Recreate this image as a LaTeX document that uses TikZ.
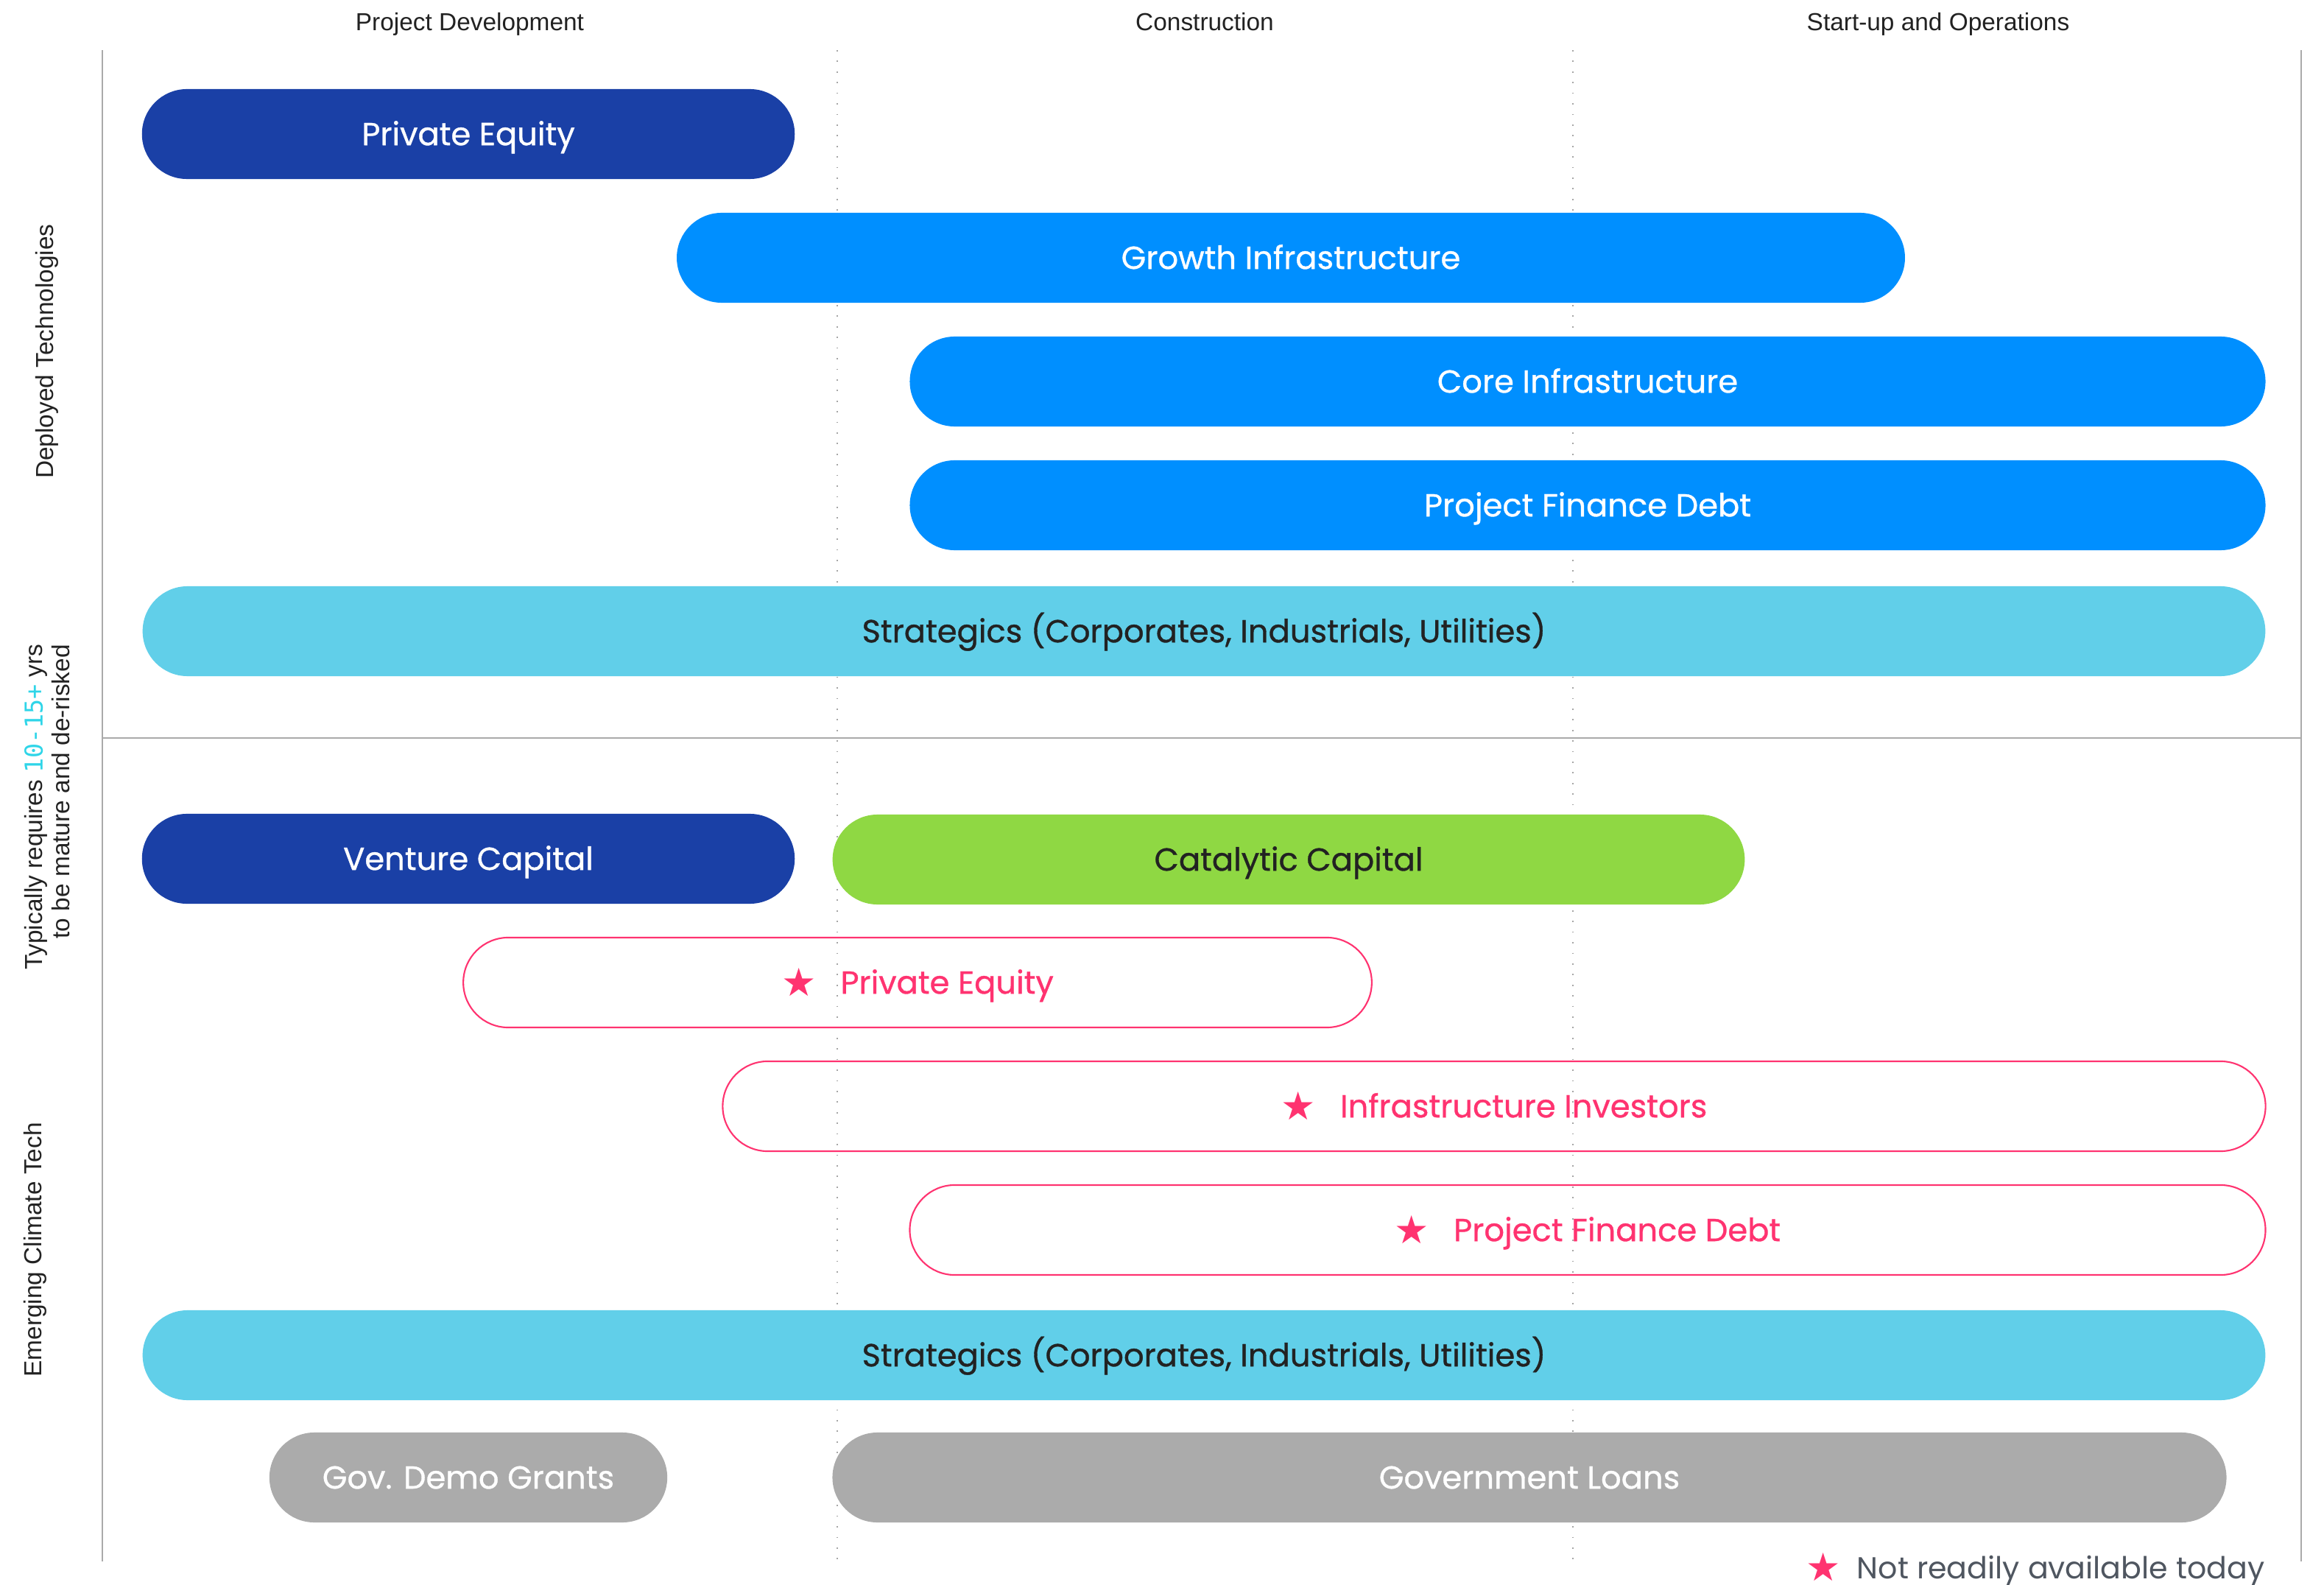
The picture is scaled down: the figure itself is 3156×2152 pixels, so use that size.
\documentclass[tikz,border=0pt]{standalone}
\usepackage{fontspec}
\setmainfont{Liberation Sans}
\newfontfamily\barfont{Poppins}[FakeBold=0.8]
\newfontfamily\keyfont{Poppins}
\newfontfamily\symfont{DejaVu Sans}
\newfontfamily\numfont{DejaVu Sans Mono}
\usetikzlibrary{shapes.misc, positioning}
\definecolor{DeepBlue}{HTML}{1A40A6}
\definecolor{SkyBlue}{HTML}{008FFF}
\definecolor{LightCyan}{HTML}{61CFE9}
\definecolor{LimeGreen}{HTML}{8FD843}
\definecolor{HotPink}{HTML}{FF3370}
\definecolor{GrantGray}{HTML}{ABABAB}
\definecolor{RuleGray}{HTML}{AAAAAA}
\definecolor{InkGray}{HTML}{222222}
\definecolor{NoteGray}{HTML}{4F5660}
\definecolor{YearCyan}{HTML}{2FD5E8}
\newcommand{\starglyph}{\raisebox{-0.9pt}{\symfont\fontsize{15}{15}\selectfont ★}}
\newcommand{\notyet}{\starglyph\hspace{0.33cm}}

\begin{document}
\begin{tikzpicture}[x=0.01cm, y=-0.01cm,
    bar/.style={rounded rectangle, minimum height=1.22cm, inner sep=0pt,
      text height=8.6pt, text depth=0pt, font=\barfont\fontsize{12.3}{14}\selectfont},
    filled/.style={bar, fill=#1, text=white},
    hollow/.style={bar, draw=HotPink, line width=0.6pt, text=HotPink},
    phase/.style={font=\fontsize{9.5}{11}\selectfont, text=InkGray, anchor=base},
    side/.style={rotate=90, font=\fontsize{9.5}{10.5}\selectfont, text=InkGray},
    rule/.style={RuleGray, line width=0.6pt},
    stage/.style={gray!70, line width=0.5pt, dash pattern=on 0.5pt off 3.6pt}]
  \useasboundingbox (0,0) rectangle (3156,2152);

  % Frame and phase dividers
  \draw[stage] (1137,68) -- (1137,2120);
  \draw[stage] (2136,68) -- (2136,2120);
  \draw[rule] (139,68) -- (139,2120);
  \draw[rule] (3125,68) -- (3125,2120);
  \draw[rule] (139,1002) -- (3125,1002);

  % Phase headings
  \node[phase] (dev) at (638,42) {Project Development};
  \node[phase] (build) at (1636,42) {Construction};
  \node[phase] (ops) at (2632,42) {Start-up and Operations};

  % Row labels
  \node[side] (deployed) at (64,477) {Deployed Technologies};
  \node[side, align=right] (maturity) at (64,1096)
    {Typically requires \textcolor{YearCyan}{\numfont\fontsize{9.5}{10}\selectfont 10-15+} yrs\\ to be mature and de-risked};
  \node[side] (emerging) at (48,1697) {Emerging Climate Tech};

  % Deployed technologies
  \node[filled=DeepBlue, minimum width=8.86cm] (pe) at (636,182) {Private Equity};
  \node[filled=SkyBlue, minimum width=16.67cm] (growth) at (1753,350) {Growth Infrastructure};
  \node[filled=SkyBlue, minimum width=18.40cm] (core) at (2156,518) {Core Infrastructure};
  \node[filled=SkyBlue, minimum width=18.40cm] (pfd) at (2156,686) {Project Finance Debt};
  \node[filled=LightCyan, text=InkGray, minimum width=28.81cm] (strat) at (1635,857) {Strategics (Corporates, Industrials, Utilities)};

  % Emerging climate tech
  \node[filled=DeepBlue, minimum width=8.86cm] (vc) at (636,1166) {Venture Capital};
  \node[filled=LimeGreen, text=InkGray, minimum width=12.38cm] (catalytic) at (1750,1167) {Catalytic Capital};
  \node[hollow, minimum width=12.33cm] (pe2) at (1246,1334) {\notyet Private Equity};
  \node[hollow, minimum width=20.94cm] (infra) at (2029,1502) {\notyet Infrastructure Investors};
  \node[hollow, minimum width=18.40cm] (pfd2) at (2156,1670) {\notyet Project Finance Debt};
  \node[filled=LightCyan, text=InkGray, minimum width=28.81cm] (strat2) at (1635,1840) {Strategics (Corporates, Industrials, Utilities)};
  \node[filled=GrantGray, minimum width=5.40cm] (grants) at (636,2006) {Gov. Demo Grants};
  \node[filled=GrantGray, minimum width=18.92cm] (loans) at (2077,2006) {Government Loans};

  % Key
  \node[anchor=base east, inner sep=0pt, font=\keyfont\fontsize{11.7}{14}\selectfont, text=NoteGray] (key) at (3076,2143)
    {\textcolor{HotPink}{\starglyph}\hspace{0.22cm}Not readily available today};
\end{tikzpicture}
\end{document}
